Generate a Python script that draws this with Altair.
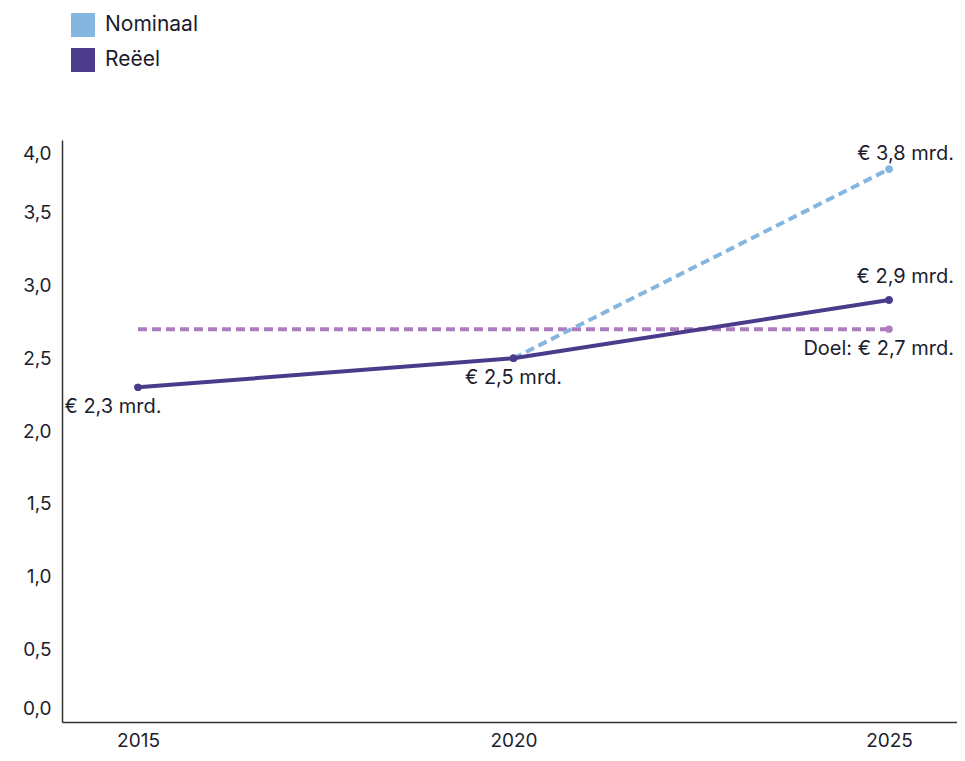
import altair as alt
import pandas as pd

# ---- data ----
jaren = [2015, 2020, 2025]
reeel = [2.3, 2.5, 2.9]
nominaal_jaren = [2020, 2025]
nominaal = [2.5, 3.8]
doel_jaren = [2015, 2025]
doel = [2.7, 2.7]
reeksen = ["Nominaal", "Reëel"]
kleuren = ["#85b6e0", "#4a3b8b"]
doel_kleur = "#ad7dbf"
labels = ["€ 2,3 mrd.", "€ 2,5 mrd.", "€ 2,9 mrd.", "€ 3,8 mrd.", "Doel: € 2,7 mrd."]
y_ticks = [0, 0.5, 1, 1.5, 2, 2.5, 3, 3.5, 4]

FONT = "Inter"
TXT = "#1c1d2e"

df_reeel = pd.DataFrame({"jaar": jaren, "waarde": reeel, "reeks": "Reëel"})
df_nom = pd.DataFrame({"jaar": nominaal_jaren, "waarde": nominaal, "reeks": "Nominaal"})
df_doel = pd.DataFrame({"jaar": doel_jaren, "waarde": doel})
df_pts = pd.concat([df_reeel, df_nom.iloc[[1]]], ignore_index=True)

xs = alt.Scale(domain=[2013.988, 2025.905], nice=False, zero=False)
ys = alt.Scale(domain=[0, 4], nice=False)
cs = alt.Scale(domain=reeksen, range=kleuren)

xax = alt.Axis(values=jaren, format="d", title=None, ticks=False, grid=False,
               labelFontSize=19, labelFont=FONT, labelColor=TXT, labelPadding=9,
               domainColor="#333333", domainWidth=1.5, labelFlush=False)
yax = alt.Axis(values=y_ticks, title=None, ticks=False, grid=False,
               labelExpr="replace(format(datum.value, '.1f'), '.', ',')",
               labelFontSize=19, labelFont=FONT, labelColor=TXT, labelPadding=11,
               domainColor="#333333", domainWidth=1.5,
               labelOffset={"condition": [{"test": "datum.value == 0", "value": -14},
                                          {"test": "datum.value == 4", "value": 13}],
                            "value": 0})

X = alt.X("jaar:Q", scale=xs, axis=xax)
Y = alt.Y("waarde:Q", scale=ys, axis=yax)

legend = alt.Legend(title=None, orient="none", legendX=9, legendY=-127, symbolType="square",
                    symbolSize=576, symbolStrokeWidth=0, labelFontSize=21, labelFont=FONT,
                    labelColor=TXT, labelOffset=10, rowPadding=11, padding=0)

points = alt.Chart(df_pts).mark_circle(size=55, opacity=1).encode(
    x=X, y=Y, color=alt.Color("reeks:N", scale=cs, legend=legend))

line_r = alt.Chart(df_reeel).mark_line(strokeWidth=4).encode(
    x=X, y=Y, color=alt.Color("reeks:N", scale=cs, legend=legend))
line_n = alt.Chart(df_nom).mark_line(strokeWidth=4, strokeDash=[9, 5]).encode(
    x=X, y=Y, color=alt.Color("reeks:N", scale=cs, legend=legend))
line_d = alt.Chart(df_doel).mark_line(strokeWidth=4, strokeDash=[9, 5], color=doel_kleur).encode(
    x=X, y=Y)
pt_d = alt.Chart(df_doel.iloc[[1]]).mark_circle(size=55, opacity=1, color=doel_kleur).encode(x=X, y=Y)

def lab(df, text, dx, dy, align="center"):
    d = df.copy()
    d["label"] = text
    return alt.Chart(d).mark_text(dx=dx, dy=dy, align=align, baseline="middle", fontSize=20,
                                  font=FONT, color=TXT).encode(x=X, y=Y, text="label:N")

t1 = lab(df_reeel.iloc[[0]], labels[0], -25, 20)
t2 = lab(df_reeel.iloc[[1]], labels[1], 0, 20)
t3 = lab(df_reeel.iloc[[2]], labels[2], 65, -23, align="right")
t4 = lab(df_nom.iloc[[1]], labels[3], 65, -15, align="right")
t5 = lab(df_doel.iloc[[1]], labels[4], 65, 20, align="right")

chart = alt.layer(points, line_d, line_n, line_r, pt_d, points, t1, t2, t3, t4, t5).properties(
    width=895, height=582, autosize="none",
    padding={"left": 54, "top": 132, "right": 0, "bottom": 31},
).configure(background="white").configure_view(stroke=None)

chart.save("out.html", embed_options={"renderer": "svg", "actions": False})
